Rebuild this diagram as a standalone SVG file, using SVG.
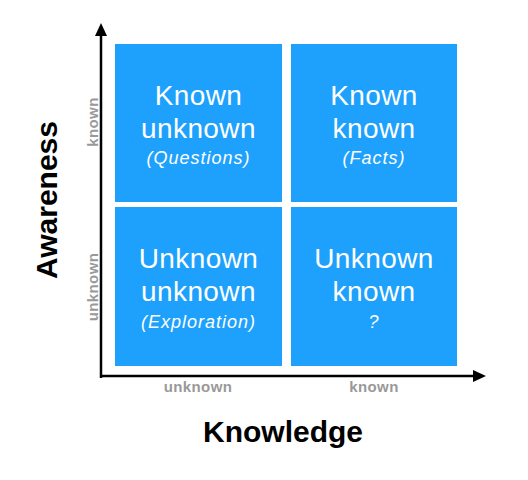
<svg xmlns="http://www.w3.org/2000/svg" width="528" height="480" viewBox="0 0 528 480">
<style>
.box{fill:#1EA1FC}
.t{font-family:"Liberation Sans",Arial,sans-serif;fill:#fff;text-anchor:middle;font-size:28px;letter-spacing:0.4px}
.s{font-family:"Liberation Sans",Arial,sans-serif;fill:#fff;text-anchor:middle;font-size:18px;font-style:italic;letter-spacing:1px}
.ax{font-family:"Liberation Sans",Arial,sans-serif;fill:#999;text-anchor:middle;font-size:15px;font-weight:bold;letter-spacing:0.4px}
.title{font-family:"Liberation Sans",Arial,sans-serif;fill:#000;text-anchor:middle;font-size:30px;font-weight:bold}
.axis{stroke:#000;stroke-width:2.5;fill:none}
</style>
<rect width="528" height="480" fill="#fff"/>
<g id="known-unknown">
<rect class="box" x="115" y="44" width="167" height="158"/>
<text class="t" x="198.5" y="105">Known</text>
<text class="t" x="198.5" y="138">unknown</text>
<text class="s" x="198.5" y="164">(Questions)</text>
</g>
<g id="known-known">
<rect class="box" x="291" y="44" width="166" height="158"/>
<text class="t" x="374" y="105">Known</text>
<text class="t" x="374" y="138">known</text>
<text class="s" x="374" y="164">(Facts)</text>
</g>
<g id="unknown-unknown">
<rect class="box" x="115" y="207" width="167" height="159"/>
<text class="t" x="198.5" y="268">Unknown</text>
<text class="t" x="198.5" y="301">unknown</text>
<text class="s" x="198.5" y="328">(Exploration)</text>
</g>
<g id="unknown-known">
<rect class="box" x="291" y="207" width="166" height="159"/>
<text class="t" x="374" y="268">Unknown</text>
<text class="t" x="374" y="301">known</text>
<text class="s" x="374" y="328">?</text>
</g>
<g id="connectors">
<path class="axis" d="M101 378 V34"/>
<path d="M101 23 L95 36 L107 36 Z" fill="#000"/>
<path class="axis" d="M100 376 H474"/>
<path d="M486 376 L473 370 L473 382 Z" fill="#000"/>
</g>
<g id="labels">
<text class="ax" x="198" y="392">unknown</text>
<text class="ax" x="374" y="392">known</text>
<text class="ax" transform="translate(98,122) rotate(-90)">known</text>
<text class="ax" transform="translate(98,287) rotate(-90)">unknown</text>
<text class="title" x="283" y="442">Knowledge</text>
<text class="title" transform="translate(57,200) rotate(-90)">Awareness</text>
</g>
</svg>
